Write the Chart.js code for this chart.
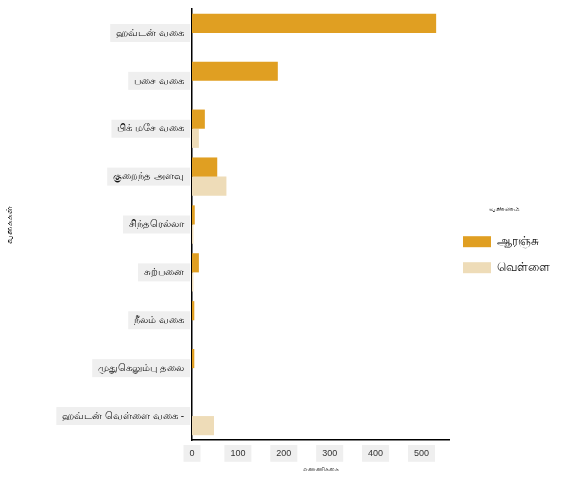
<!DOCTYPE html><html><head><meta charset="utf-8"><script src="https://cdn.jsdelivr.net/npm/chart.js@4"></script>
<style>body{margin:0;background:#fff}#w{width:564px;height:489px}</style></head><body><div id="w"><canvas id="c"></canvas></div>
<script>
const categories=["ஹவ்டன் வகை","பசை வகை","பிக் மசே வகை","குறைந்த அளவு","சிந்தரெல்லா","சுற்பனை","நீலம் வகை","முதுகெலும்பு தலை","ஹவ்டன் வெள்ளை வகை -"];
const orangeValues=[532,187,28,55,6,15,5,5,0];
const whiteValues=[0,0,15,75,3,3,0,0,48];
const seriesNames=["ஆரஞ்சு","வெள்ளை"];
const xTicks=[0,100,200,300,400,500];
const bd={showLabelBackdrop:true,backdropColor:'#efefef',backdropPadding:{x:6,y:3}};
new Chart(document.getElementById('c'),{type:'bar',
data:{labels:categories,datasets:[
{label:seriesNames[0],data:orangeValues,backgroundColor:'#e09f22',categoryPercentage:0.8,barPercentage:1},
{label:seriesNames[1],data:whiteValues,backgroundColor:'#eedcb8',categoryPercentage:0.8,barPercentage:1}]},
options:{indexAxis:'y',responsive:true,maintainAspectRatio:false,animation:false,
layout:{padding:{top:8,right:4,bottom:12,left:0}},
plugins:{legend:{position:'right',align:'center',title:{display:true,text:'வண்ணம்',font:{size:7},color:'#333',padding:8},
labels:{boxWidth:28,boxHeight:11,color:'#111',font:{size:12},padding:14}},tooltip:{enabled:false}},
scales:{x:{min:0,max:560,afterBuildTicks:a=>{a.ticks=xTicks.map(v=>({value:v}))},
grid:{display:false,drawTicks:true,tickLength:5,color:'#000'},border:{color:'#000',width:1.5},
ticks:{color:'#333',font:{size:9},...bd,maxRotation:0},
title:{display:true,text:'எண்ணிக்கை',font:{size:6},color:'#333'}},
y:{afterFit:a=>{a.width=192},grid:{display:false,tickLength:5,color:'#000'},border:{color:'#000',width:1.5},
ticks:{color:'#111',font:{size:10},...bd,autoSkip:false},
title:{display:true,text:'வகைகள்',font:{size:9},color:'#111'}}}}});
</script></body></html>
